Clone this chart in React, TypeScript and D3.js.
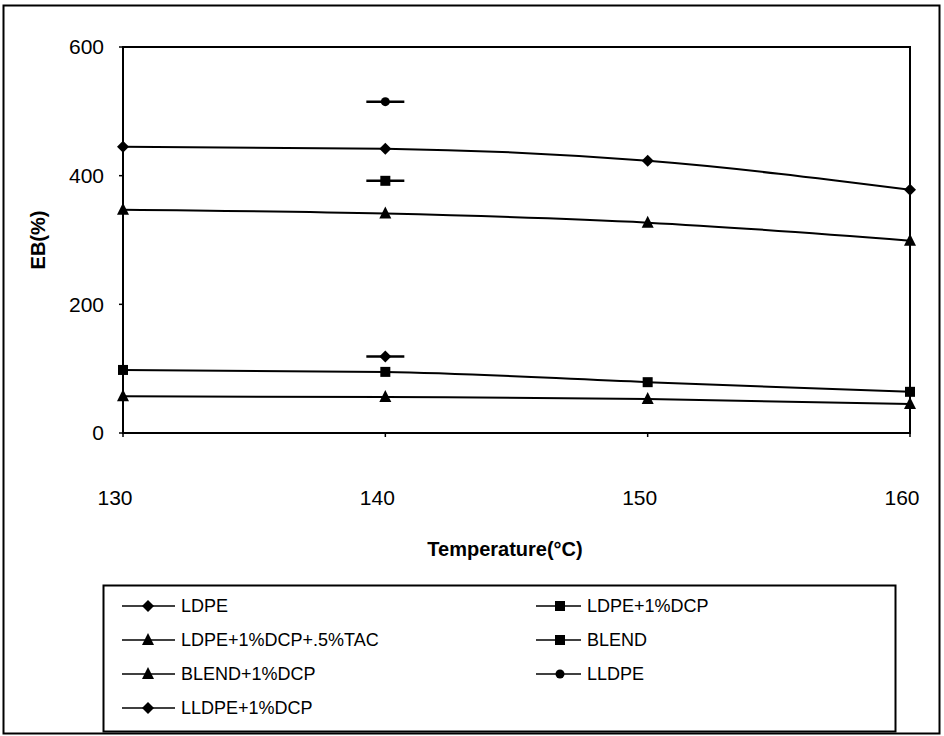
import React from "react";
import * as d3 from "d3";

const temperatures = [130, 140, 150, 160];
const xTicks = [130, 140, 150, 160];
const yTicks = [0, 200, 400, 600];

const seriesNames = [
  "LDPE",
  "LDPE+1%DCP",
  "LDPE+1%DCP+.5%TAC",
  "BLEND",
  "BLEND+1%DCP",
  "LLDPE",
  "LLDPE+1%DCP",
];
const seriesShapes = ["diamond", "square", "triangle", "square", "triangle", "circle", "diamond"];

const ldpe = [445, 442, 423, 378];
const ldpeDcp = [null, 392, null, null];
const ldpeDcpTac = [347, 341, 327, 299];
const blend = [98, 95, 79, 64];
const blendDcp = [57, 56, 53, 45];
const lldpe = [null, 515, null, null];
const lldpeDcp = [null, 119, null, null];

const seriesValues: (number | null)[][] = [ldpe, ldpeDcp, ldpeDcpTac, blend, blendDcp, lldpe, lldpeDcp];

const FONT = "'Liberation Sans', Arial, Helvetica, sans-serif";

function Marker({ shape, x, y }: { shape: string; x: number; y: number }) {
  if (shape === "diamond") {
    const s = 6;
    return <path d={`M${x},${y - s}L${x + s},${y}L${x},${y + s}L${x - s},${y}Z`} fill="#000" />;
  }
  if (shape === "square") {
    return <rect x={x - 5} y={y - 5} width={10} height={10} fill="#000" />;
  }
  if (shape === "triangle") {
    return <path d={`M${x},${y - 7}L${x + 6},${y + 5}L${x - 6},${y + 5}Z`} fill="#000" />;
  }
  return <circle cx={x} cy={y} r={4.5} fill="#000" />;
}

export default function App() {
  const left = 123, right = 910, top = 47, bottom = 433;
  const x = d3.scaleLinear().domain([130, 160]).range([left, right]);
  const y = d3.scaleLinear().domain([0, 600]).range([bottom, top]);

  const line = d3
    .line<[number, number | null]>()
    .defined((d) => d[1] !== null)
    .x((d) => x(d[0]))
    .y((d) => y(d[1] as number))
    .curve(d3.curveMonotoneX);

  const legendRowsLeft = [0, 2, 4, 6];
  const legendRowsRight = [1, 3, 5];
  const legendY = [606, 640, 674, 708];

  return (
    <svg
      width={944}
      height={736}
      style={{ position: "absolute", left: 0, top: 0, background: "#fff" }}
      fontFamily={FONT}
    >
      <rect x={0} y={0} width={944} height={736} fill="#fff" />
      {/* outer frame */}
      <rect x={3.5} y={5.5} width={936} height={728} fill="none" stroke="#000" strokeWidth={2} />

      {/* plot area border */}
      <rect x={left} y={top} width={right - left} height={bottom - top} fill="none" stroke="#000" strokeWidth={2} />

      {/* y ticks */}
      {yTicks.map((t) => (
        <g key={"y" + t}>
          <line x1={left - 4} x2={left} y1={y(t)} y2={y(t)} stroke="#000" strokeWidth={1.5} />
          <text x={104} y={y(t)} dy="0.35em" textAnchor="end" fontSize={21} fill="#000">
            {t}
          </text>
        </g>
      ))}

      {/* x ticks */}
      {xTicks.map((t) => (
        <g key={"x" + t}>
          <line x1={x(t)} x2={x(t)} y1={bottom} y2={bottom + 4} stroke="#000" strokeWidth={1.5} />
          <text x={x(t) - 8} y={505} textAnchor="middle" fontSize={21} fill="#000">
            {t}
          </text>
        </g>
      ))}

      <text x={505} y={556} textAnchor="middle" fontSize={20} fontWeight="bold" fill="#000">
        Temperature(°C)
      </text>
      <text
        transform={`translate(45,${(top + bottom) / 2}) rotate(-90)`}
        textAnchor="middle"
        fontSize={20}
        fontWeight="bold"
        fill="#000"
      >
        EB(%)
      </text>

      {/* series */}
      {seriesValues.map((vals, i) => {
        const pts: [number, number | null][] = temperatures.map((t, j) => [t, vals[j]]);
        const valid = pts.filter((p) => p[1] !== null);
        return (
          <g key={"s" + i}>
            {valid.length > 1 ? (
              <path d={line(pts) || ""} fill="none" stroke="#000" strokeWidth={2} />
            ) : (
              valid.map((p, k) => (
                <line
                  key={k}
                  x1={x(p[0]) - 19}
                  x2={x(p[0]) + 19}
                  y1={y(p[1] as number)}
                  y2={y(p[1] as number)}
                  stroke="#000"
                  strokeWidth={2.5}
                />
              ))
            )}
            {valid.map((p, k) => (
              <Marker key={k} shape={seriesShapes[i]} x={x(p[0])} y={y(p[1] as number)} />
            ))}
          </g>
        );
      })}

      {/* legend */}
      <rect x={103.5} y={585.5} width={792} height={146} fill="none" stroke="#000" strokeWidth={2} />
      {legendRowsLeft.map((si, r) => (
        <g key={"ll" + si}>
          <line x1={122} x2={175} y1={legendY[r]} y2={legendY[r]} stroke="#000" strokeWidth={1.5} />
          <Marker shape={seriesShapes[si]} x={148} y={legendY[r]} />
          <text x={181} y={legendY[r]} dy="0.35em" fontSize={18} fill="#000">
            {seriesNames[si]}
          </text>
        </g>
      ))}
      {legendRowsRight.map((si, r) => (
        <g key={"lr" + si}>
          <line x1={536} x2={581} y1={legendY[r]} y2={legendY[r]} stroke="#000" strokeWidth={1.5} />
          <Marker shape={seriesShapes[si]} x={560} y={legendY[r]} />
          <text x={587} y={legendY[r]} dy="0.35em" fontSize={18} fill="#000">
            {seriesNames[si]}
          </text>
        </g>
      ))}
    </svg>
  );
}
